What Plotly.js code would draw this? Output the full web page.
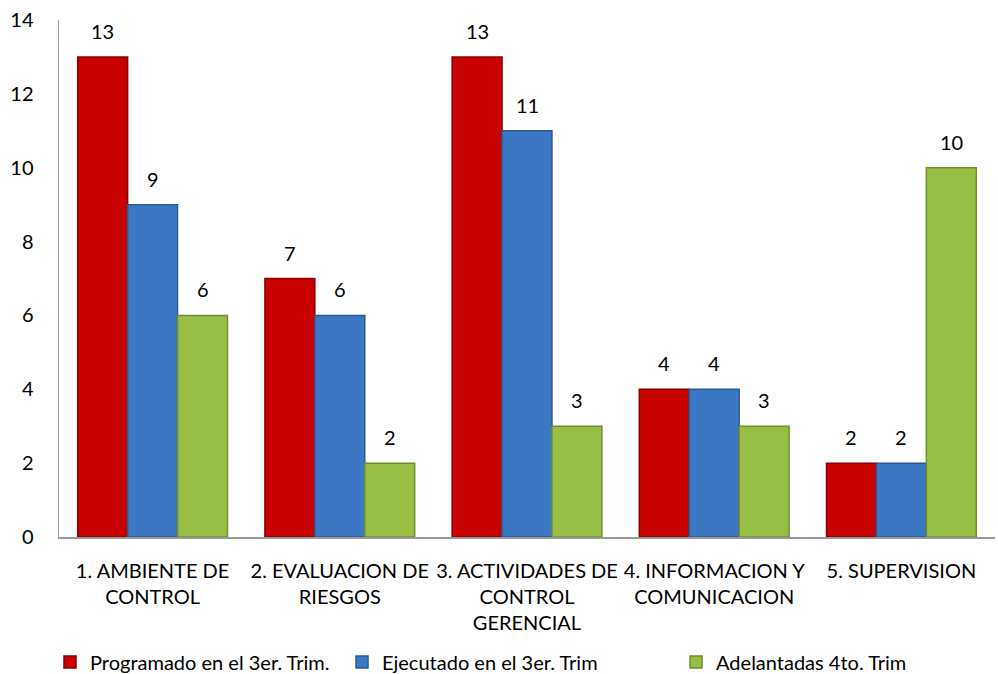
<!DOCTYPE html>
<html>
<head>
<meta charset="utf-8">
<script src="https://cdn.plot.ly/plotly-3.0.1.min.js"></script>
<style>html,body{margin:0;padding:0;background:#fff;}#chart{width:998px;height:674px;}</style>
</head>
<body>
<div id="chart"></div>
<script>
const categories = [
  "1. AMBIENTE DE<br>CONTROL",
  "2. EVALUACION DE<br>RIESGOS",
  "3. ACTIVIDADES DE<br>CONTROL<br>GERENCIAL",
  "4. INFORMACION Y<br>COMUNICACION",
  "5. SUPERVISION"
];
const programado = [13, 7, 13, 4, 2];
const ejecutado = [9, 6, 11, 4, 2];
const adelantadas = [6, 2, 3, 3, 10];
const seriesNames = ["Programado en el 3er. Trim.", "Ejecutado en el 3er. Trim", "Adelantadas 4to. Trim"];
const yTicks = [0, 2, 4, 6, 8, 10, 12, 14];

const font = "Lato, 'Open Sans', sans-serif";
const idx = categories.map((c, i) => i);
const series = [
  {name: seriesNames[0], vals: programado, color: "#C80000", line: "#8a0000", legend: "legend", lx: 0.0501},
  {name: seriesNames[1], vals: ejecutado, color: "#3B77C2", line: "#2a5a95", legend: "legend2", lx: 0.3427},
  {name: seriesNames[2], vals: adelantadas, color: "#98BE46", line: "#6f8f2e", legend: "legend3", lx: 0.6774}
];
const bw = 0.8 / series.length;
const data = series.map((s, k) => ({
  type: "bar", name: s.name, x: idx, y: s.vals, legend: s.legend,
  width: bw, offset: -0.4 + k * bw,
  marker: {color: s.color, line: {color: s.line, width: 1.5}}
}));
const annotations = [];
series.forEach((s, k) => {
  s.vals.forEach((v, i) => {
    annotations.push({
      x: i - 0.4 + (k + 0.5) * bw, y: v, xref: "x", yref: "y",
      text: String(v), showarrow: false, yanchor: "bottom", yshift: 12,
      font: {size: 20, color: "#000", family: font}
    });
  });
});
const layout = {
  width: 998, height: 674,
  margin: {l: 59, r: 3, t: 20, b: 137, autoexpand: false},
  paper_bgcolor: "#fff", plot_bgcolor: "#fff",
  barmode: "overlay",
  font: {family: font, size: 20, color: "#000"},
  xaxis: {range: [-0.5, 4.5], tickvals: idx, ticktext: categories,
          showline: true, linecolor: "#999", linewidth: 1.5, ticks: "", showgrid: false,
          zeroline: false, tickfont: {size: 20}, automargin: false, ticklabelstandoff: 15},
  yaxis: {range: [0, 14], tickvals: yTicks, showline: true, linecolor: "#999", linewidth: 1.5,
          showgrid: false, zeroline: false, ticks: "", tickfont: {size: 20}, ticklabelstandoff: 20,
          automargin: false},
  showlegend: true,
  annotations: annotations
};
series.forEach(s => {
  layout[s.legend] = {orientation: "h", x: s.lx, xref: "container", xanchor: "left",
    y: 0.0178, yref: "container", yanchor: "middle",
    font: {size: 20}, bgcolor: "rgba(0,0,0,0)", itemwidth: 30};
});
Plotly.newPlot("chart", data, layout, {displayModeBar: false, staticPlot: true});
</script>
</body>
</html>
